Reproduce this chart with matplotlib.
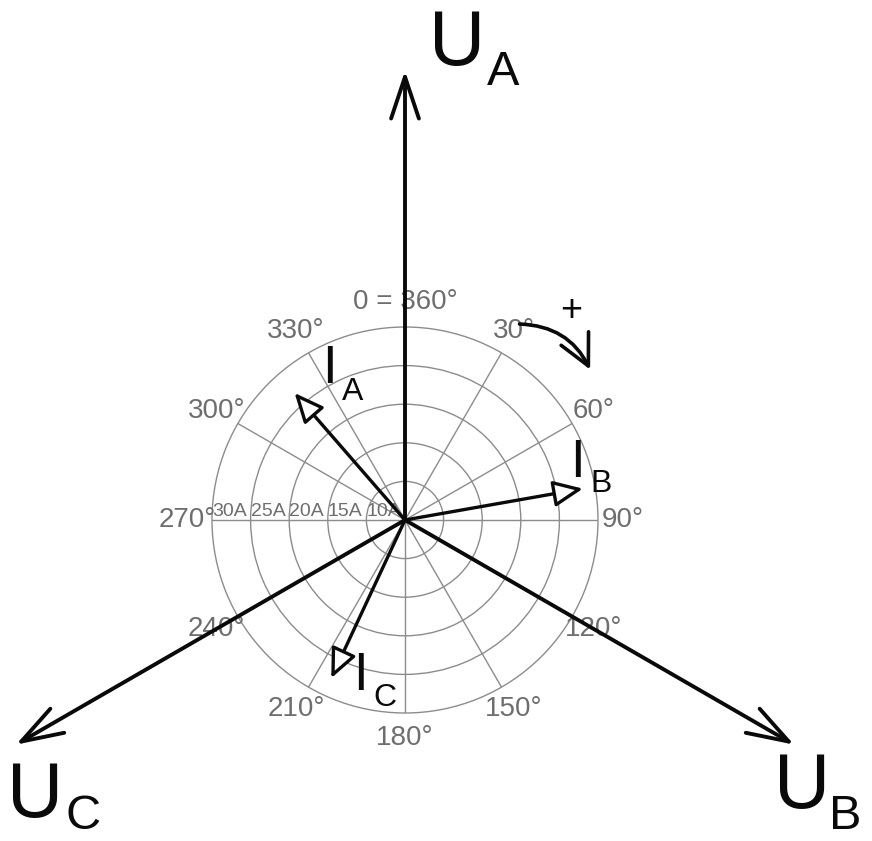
import matplotlib
matplotlib.use('Agg')
import matplotlib.pyplot as plt
import numpy as np

plt.rcParams['font.family'] = ['Liberation Sans', 'DejaVu Sans']

# angle grid (degrees, clockwise from north) and radial grid (amps)
theta_ticks = [0, 30, 60, 90, 120, 150, 180, 210, 240, 270, 300, 330]
theta_labels = ['0 = 360°', '30°', '60°', '90°', '120°', '150°',
                '180°', '210°', '240°', '270°', '300°', '330°']
r_ticks = [10, 15, 20, 25, 30]
r_labels = ['10A', '15A', '20A', '25A', '30A']

# phasors
voltage_names = ['A', 'B', 'C']
voltage_angles = [0, 120, 240]
voltage_length = 63.2
current_names = ['A', 'B', 'C']
current_angles = [319, 80, 205]
current_values = [26.8, 28.4, 27.6]

W, H = 872, 841
r_min, r_max = 5, 30
grid_col = '#8c8c8c'
label_col = '#6e6e6e'
ink = '#0a0a0a'


def fig_xy(x, y):
    return x / W, 1 - y / H


fig = plt.figure(figsize=(W / 100, H / 100), dpi=100)
ax = fig.add_axes([212 / W, (H - 520 - 193) / H, 386 / W, 386 / H], projection='polar')
ax.set_theta_zero_location('N')
ax.set_theta_direction(-1)
ax.set_ylim(r_min, r_max)
ax.set_xticks(np.deg2rad(theta_ticks))
ax.set_xticklabels([])
ax.set_yticks(r_ticks[:-1])
ax.set_yticklabels([])
ax.grid(True, color=grid_col, lw=1.0)
ax.spines['polar'].set_color(grid_col)
ax.spines['polar'].set_linewidth(1.0)
ax.tick_params(length=0)

# angle labels around the grid
r_lab = r_max + 25 / 7.75
for ang, lab in zip(theta_ticks, theta_labels):
    ax.text(np.deg2rad(ang), r_lab, lab, ha='center', va='center',
            fontsize=20, color=label_col)

# amp labels along the 270 deg spoke
for r, lab in zip(r_ticks, r_labels):
    ax.text(np.deg2rad(270), r, lab, ha='left', va='bottom',
            fontsize=14, color=label_col)

# voltage phasors
for ang in voltage_angles:
    ax.annotate('', xy=(np.deg2rad(ang), voltage_length), xytext=(np.deg2rad(ang), r_min),
                arrowprops=dict(arrowstyle='->,head_length=1.5,head_width=0.5',
                                mutation_scale=20, lw=2.8, color=ink,
                                shrinkA=0, shrinkB=0),
                annotation_clip=False)

# current phasors
for ang, val in zip(current_angles, current_values):
    ax.annotate('', xy=(np.deg2rad(ang), val), xytext=(np.deg2rad(ang), r_min),
                arrowprops=dict(arrowstyle='-|>,head_length=0.9,head_width=0.4',
                                mutation_scale=20, lw=2.4, ec=ink, fc='white',
                                shrinkA=0, shrinkB=0),
                annotation_clip=False)

# rotation direction arrow
ax.annotate('', xy=(np.deg2rad(50.9), 35.9), xytext=(np.deg2rad(30.3), 34.4),
            arrowprops=dict(arrowstyle='->,head_length=1.1,head_width=0.55',
                            connectionstyle='arc3,rad=-0.3',
                            mutation_scale=20, lw=2.6, color=ink,
                            shrinkA=0, shrinkB=0),
            annotation_clip=False)
fig.text(*fig_xy(571, 311), '+', fontsize=27, ha='center', va='center', color=ink)

# phasor names (main letter, subscript) with pixel anchors
u_pos = [((429, 65), (487, 85)), ((774, 808), (829, 829)), ((7, 817), (65, 829))]
for name, (p_main, p_sub) in zip(voltage_names, u_pos):
    fig.text(*fig_xy(*p_main), 'U', fontsize=56, va='baseline', color=ink)
    fig.text(*fig_xy(*p_sub), name, fontsize=35, va='baseline', color=ink)

i_pos = [((322, 383), (342, 400)), ((570, 477), (590, 492)), ((353, 690), (373, 706))]
for name, (p_main, p_sub) in zip(current_names, i_pos):
    fig.text(*fig_xy(*p_main), 'I', fontsize=38, va='baseline', color=ink)
    fig.text(*fig_xy(*p_sub), name, fontsize=23, va='baseline', color=ink)

fig.savefig('out.png', dpi=100)
